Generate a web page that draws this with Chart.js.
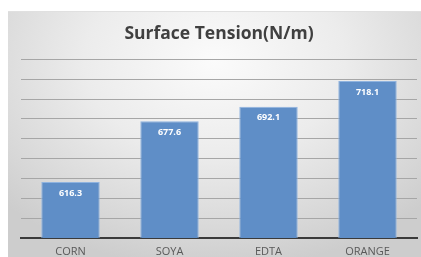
<!DOCTYPE html>
<html>
<head>
<meta charset="utf-8">
<script src="https://cdn.jsdelivr.net/npm/chart.js@4.4.0/dist/chart.umd.min.js"></script>
<style>
  html, body { margin: 0; padding: 0; background: #ffffff; overflow: hidden; }
  #wrap { position: relative; width: 421px; height: 257px; overflow: hidden; }
  #panel {
    position: absolute; left: 8px; top: 11px; right: 0; bottom: 0;
    background: radial-gradient(ellipse 70% 85% at 50% 20%, #fbfbfb 0%, #ececec 45%, #d6d6d6 85%, #cdcdcd 100%);
    border-top: 1px solid #e0e0e0;
  }
  canvas { position: absolute; left: 0; top: 0; }
</style>
</head>
<body>
<div id="wrap">
  <div id="panel"></div>
  <canvas id="c" width="421" height="265"></canvas>
</div>
<script>
const categories = ['CORN', 'SOYA', 'EDTA', 'ORANGE'];
const surfaceTension = [616.3, 677.6, 692.1, 718.1];
const valueLabels = ['616.3', '677.6', '692.1', '718.1'];
const chartTitle = 'Surface Tension(N/m)';

const valueLabelPlugin = {
  id: 'valueLabels',
  afterDatasetsDraw(chart) {
    const ctx = chart.ctx;
    const meta = chart.getDatasetMeta(0);
    ctx.save();
    ctx.fillStyle = '#ffffff';
    ctx.font = 'bold 9px "Open Sans"';
    ctx.textAlign = 'center';
    ctx.textBaseline = 'middle';
    meta.data.forEach((bar, i) => {
      ctx.fillText(valueLabels[i], bar.x, bar.y + 11);
    });
    ctx.restore();
  }
};

new Chart(document.getElementById('c'), {
  type: 'bar',
  data: {
    labels: categories,
    datasets: [{
      data: surfaceTension,
      backgroundColor: '#5f8ec7',
      borderColor: '#8fb3df',
      borderWidth: 1,
      categoryPercentage: 1.0,
      barPercentage: 0.59
    }]
  },
  options: {
    responsive: false,
    animation: false,
    devicePixelRatio: 1,
    layout: { padding: { left: 21, right: 4, top: 0, bottom: 0 } },
    plugins: {
      legend: { display: false },
      tooltip: { enabled: false },
      title: {
        display: true,
        text: chartTitle,
        color: '#404040',
        font: { family: '"Open Sans"', size: 17.5, weight: 'bold', lineHeight: 1.2 },
        padding: { top: 23.5, bottom: 14.8 }
      }
    },
    scales: {
      x: {
        grid: { display: false, drawTicks: false },
        border: { display: true, color: '#3a3a3a', width: 2 },
        ticks: { color: '#595959', font: { family: '"Open Sans"', size: 11, lineHeight: 1 }, padding: 8 }
      },
      y: {
        min: 560,
        max: 740,
        ticks: { display: false, stepSize: 20 },
        grid: { color: '#a6a6a6', lineWidth: 1, drawTicks: false },
        border: { display: false }
      }
    }
  },
  plugins: [valueLabelPlugin]
});
</script>
</body>
</html>
